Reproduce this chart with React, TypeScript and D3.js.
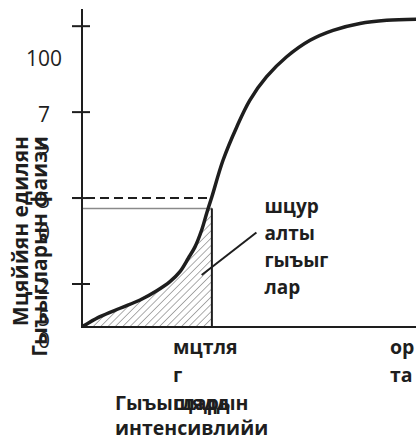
import React, { useEffect, useRef } from "react";
import * as d3 from "d3";

// curve
const intensity = [0.16, 0.97, 2.05, 3.13, 4.03, 4.74, 5.28, 5.73, 6.09, 6.45, 6.72, 7.0, 7.6, 8.34, 9.05, 9.95, 11.03, 12.29, 13.53, 14.98, 16.42, 18.0];
const detected = [1.2, 6.0, 10.9, 15.7, 21.1, 25.7, 28.6, 32.5, 35.8, 40.7, 45.6, 50.4, 61.0, 70.7, 78.5, 85.3, 91.1, 95.9, 98.8, 100.8, 101.7, 102.0];

const yTickValues = [25, 50, 75, 100];
const yLabelValues = [100, 75, 50, 25, 0];
const yLabelLines = [["100"], ["7", "5"], ["5", "0"], ["2", "5"], ["0"]];

const threshold = 7;
const thresholdLevel = 50;
const grayLevel = 47;

const xLabelValues = [threshold, 18.7];
const xLabelLines = [["мцтля", "г", "щядд"], ["ор", "та"]];

const xTitle = ["Гыъыгларын", "интенсивлийи"];
const yTitle = ["Мцяййян едилян", "Гыъыгларын фаизи"];
const calloutText = ["шцур", "алты", "гыъыг", "лар"];
const calloutFrom = [6.45, 27.6];
const calloutTo = [9.4, 40];

const W = 416;
const H = 441;

export default function App() {
  const svgRef = useRef<SVGSVGElement>(null);

  useEffect(() => {
    document.body.style.margin = "0";
    const svg = d3.select(svgRef.current);
    svg.selectAll("*").remove();

    const x = d3.scaleLinear().domain([0, 18]).range([82, 416]);
    const y = d3.scaleLinear().domain([0, 25, 105]).range([327, 284, 9]);

    const pts: [number, number][] = intensity.map((v, i) => [v, detected[i]]);
    const font = "'Open Sans', sans-serif";
    const ink = "#1e1e1e";

    const defs = svg.append("defs");
    const pat = defs
      .append("pattern")
      .attr("id", "hatch")
      .attr("patternUnits", "userSpaceOnUse")
      .attr("width", 5.2)
      .attr("height", 5.2)
      .attr("patternTransform", "rotate(45)");
    pat
      .append("line")
      .attr("x1", 0)
      .attr("y1", 0)
      .attr("x2", 0)
      .attr("y2", 5.2)
      .attr("stroke", "#5a5a5a")
      .attr("stroke-width", 1);

    const curve = d3.curveCatmullRom.alpha(0.5);

    // hatched area under the curve up to the threshold
    const under = pts.filter((d) => d[0] <= threshold);
    under.unshift([0.05, 0.6]);
    const area = d3
      .area<[number, number]>()
      .x((d) => x(d[0]))
      .y0(y(0))
      .y1((d) => y(d[1]))
      .curve(curve);
    svg.append("path").attr("d", area(under)).attr("fill", "url(#hatch)");

    // gray level line
    svg
      .append("line")
      .attr("x1", x(0))
      .attr("x2", x(threshold))
      .attr("y1", y(grayLevel))
      .attr("y2", y(grayLevel))
      .attr("stroke", "#8a8a8a")
      .attr("stroke-width", 1.5);

    // dashed 50% line
    svg
      .append("line")
      .attr("x1", x(0) - 10)
      .attr("x2", x(threshold))
      .attr("y1", y(thresholdLevel))
      .attr("y2", y(thresholdLevel))
      .attr("stroke", ink)
      .attr("stroke-width", 2)
      .attr("stroke-dasharray", "9,5");

    // threshold vertical
    svg
      .append("line")
      .attr("x1", x(threshold))
      .attr("x2", x(threshold))
      .attr("y1", y(grayLevel))
      .attr("y2", y(0))
      .attr("stroke", ink)
      .attr("stroke-width", 2);

    // axes
    svg
      .append("line")
      .attr("x1", x(0))
      .attr("x2", x(0))
      .attr("y1", y(105))
      .attr("y2", y(0) + 1)
      .attr("stroke", ink)
      .attr("stroke-width", 2);
    svg
      .append("line")
      .attr("x1", x(0))
      .attr("x2", W)
      .attr("y1", y(0))
      .attr("y2", y(0))
      .attr("stroke", ink)
      .attr("stroke-width", 2);

    svg
      .append("g")
      .selectAll("line")
      .data(yTickValues)
      .join("line")
      .attr("x1", x(0) - 10)
      .attr("x2", x(0) + 8)
      .attr("y1", (d) => y(d))
      .attr("y2", (d) => y(d))
      .attr("stroke", ink)
      .attr("stroke-width", 2);

    // curve
    const line = d3
      .line<[number, number]>()
      .x((d) => x(d[0]))
      .y((d) => y(d[1]))
      .curve(curve);
    svg
      .append("path")
      .attr("d", line([[0.05, 0.6], ...pts]))
      .attr("fill", "none")
      .attr("stroke", ink)
      .attr("stroke-width", 3.5)
      .attr("stroke-linecap", "round");

    const addLines = (
      lines: string[],
      x0: number,
      y0: number,
      step: number,
      size: number,
      weight: string,
      anchor = "start"
    ) => {
      lines.forEach((s, j) => {
        svg
          .append("text")
          .attr("x", x0)
          .attr("y", y0 + j * step)
          .attr("text-anchor", anchor)
          .style("font-family", font)
          .style("font-size", size + "px")
          .style("font-weight", weight)
          .attr("fill", ink)
          .text(s);
      });
    };

    // y title (rotated, top-aligned)
    yTitle.forEach((s, j) => {
      svg
        .append("text")
        .attr("transform", `translate(${28 + j * 19},136) rotate(-90)`)
        .attr("text-anchor", "end")
        .style("font-family", font)
        .style("font-size", "21px")
        .style("font-weight", "700")
        .attr("fill", ink)
        .text(s);
    });

    // y tick labels
    const labelOffset = (v: number) => (v === 100 ? 32 : v === 0 ? 13 : 2);
    yLabelValues.forEach((v, i) => {
      addLines(yLabelLines[i], 44, y(v) + labelOffset(v) + 7.5, 32, 21, "400", "middle");
    });

    // x tick labels
    xLabelValues.forEach((v, i) => {
      addLines(xLabelLines[i], x(v) - 39, 354, 28, 19.5, "700");
    });

    // x title
    addLines(xTitle, 115, 410, 25, 19.5, "700");

    // callout
    svg
      .append("line")
      .attr("x1", x(calloutFrom[0]))
      .attr("y1", y(calloutFrom[1]))
      .attr("x2", x(calloutTo[0]))
      .attr("y2", y(calloutTo[1]))
      .attr("stroke", ink)
      .attr("stroke-width", 2);
    addLines(calloutText, x(calloutTo[0]) + 8, y(calloutTo[1]) - 19, 27, 19, "700");
  }, []);

  return <svg ref={svgRef} width={W} height={H} style={{ display: "block" }} />;
}
